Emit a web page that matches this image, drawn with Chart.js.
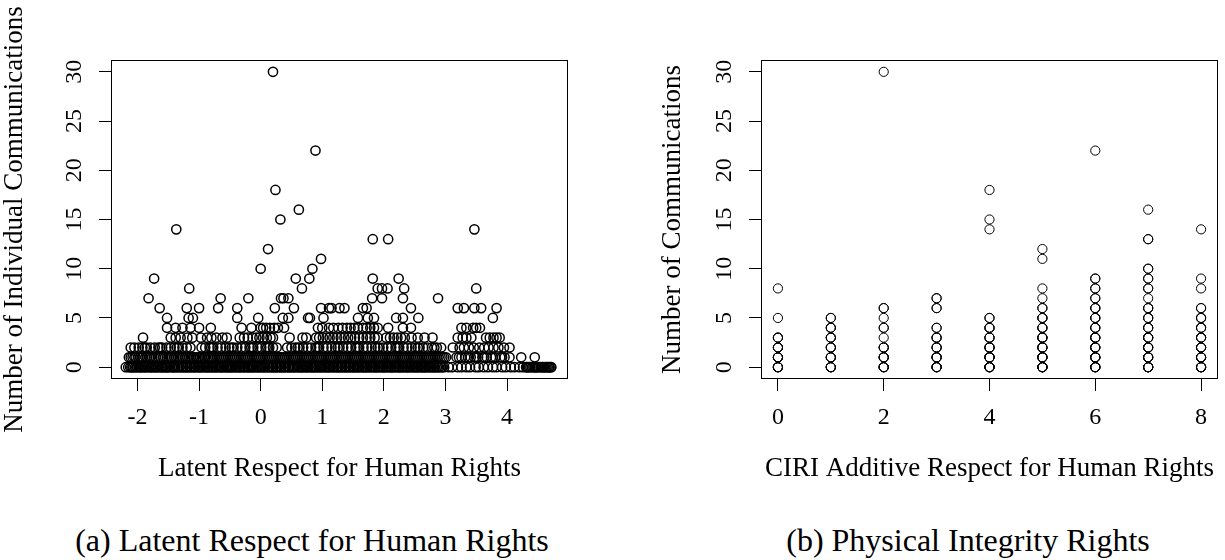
<!DOCTYPE html>
<html>
<head>
<meta charset="utf-8">
<script src="https://cdn.jsdelivr.net/npm/chart.js@4"></script>
<style>
  html, body { margin: 0; padding: 0; background: #fff; }
  #wrap { position: relative; width: 1225px; height: 560px; overflow: hidden; }
  canvas { position: absolute; top: 0; }
  .cap { position: absolute; top: 523px; height: 34px; line-height: 34px; text-align: center;
         font-size: 32px; color: #000; white-space: nowrap; }
</style>
</head>
<body>
<div id="wrap">
  <canvas id="c1" width="612" height="500" style="left:0px"></canvas>
  <canvas id="c2" width="613" height="500" style="left:612px"></canvas>
  <div class="cap" style="left:12px;width:600px;font-family:'Liberation Serif'">(a) Latent Respect for Human Rights</div>
  <div class="cap" style="left:668px;width:600px;font-family:'Liberation Serif'">(b) Physical Integrity Rights</div>
</div>
<script>
// ---------- Panel (a): latent respect score of each observation, grouped by number of communications ----------
const latentAt0 = [-2.19,-2.15,-2.1,-2.07,-2.02,-1.97,-1.94,-1.89,-1.85,-1.79,-1.76,-1.71,-1.67,-1.61,-1.58,-1.53,-1.5,-1.44,-1.41,-1.36,-1.32,-1.27,-1.22,-1.19,-1.14,-1.09,-1.06,-1.01,-0.97,-0.92,-0.87,-0.84,-0.79,-0.74,-0.71,-0.66,-0.62,-0.57,-0.53,-0.49,-0.45,-0.4,-0.35,-0.32,-0.27,-0.22,-0.19,-0.14,-0.1,-0.05,-0.01,0.04,0.08,0.13,0.18,0.21,0.26,0.31,0.34,0.39,0.44,0.47,0.52,0.56,0.61,0.66,0.69,0.74,0.78,0.83,0.87,0.91,0.96,1.0,1.05,1.09,1.13,1.18,1.23,1.26,1.31,1.36,1.39,1.44,1.49,1.52,1.57,1.61,1.66,1.7,1.74,1.79,1.84,1.87,1.92,1.97,2.0,2.05,2.1,2.13,2.18,2.23,2.26,2.31,2.36,2.39,2.44,2.49,2.53,2.57,2.62,2.66,2.7,2.75,2.8,2.83,2.88,2.93,2.98,3.05,3.11,3.2,3.26,3.34,3.4,3.49,3.54,3.62,3.69,3.77,3.83,3.92,3.98,4.06,4.12,4.2,4.26,4.31,4.34,4.38,4.43,4.46,4.5,4.55,4.58,4.62,4.66,4.69,4.72];
const latentAt0More = [-2.12,-2.08,-2.04,-2.0,-1.95,-1.91,-1.87,-1.82,-1.78,-1.73,-1.69,-1.64,-1.6,-1.55,-1.52,-1.47,-1.42,-1.39,-1.34,-1.29,-1.25,-1.2,-1.16,-1.12,-1.08,-1.03,-0.99,-0.95,-0.9,-0.86,-0.81,-0.77,-0.73,-0.68,-0.64,-0.6,-0.55,-0.51,-0.47,-0.42,-0.38,-0.34,-0.29,-0.25,-0.2,-0.16,-0.12,-0.07,-0.03,0.02,0.06,0.11,0.15,0.2,0.24,0.28,0.33,0.37,0.41,0.46,0.5,0.54,0.59,0.63,0.67,0.72,0.76,0.81,0.85,0.89,0.94,0.98,1.03,1.07,1.11,1.16,1.2,1.25,1.29,1.33,1.38,1.42,1.46,1.51,1.55,1.59,1.64,1.68,1.72,1.77,1.81,1.86,1.9,1.94,1.99,2.03,2.07,2.12,2.16,2.2,2.25,2.29,2.33,2.38,2.42,2.47,2.51,2.55,2.6,2.64,2.68,2.73,2.77,2.82,2.86,2.9,2.95,4.32,4.36,4.41,4.45,4.48,4.52,4.57,4.6,4.64,4.68,4.71];
const latentAt1 = [-2.14,-2.08,-2.03,-1.96,-1.91,-1.84,-1.79,-1.73,-1.66,-1.62,-1.55,-1.49,-1.44,-1.37,-1.31,-1.26,-1.19,-1.13,-1.08,-1.01,-0.95,-0.9,-0.83,-0.77,-0.71,-0.65,-0.59,-0.53,-0.47,-0.41,-0.35,-0.29,-0.23,-0.17,-0.11,-0.05,0.01,0.07,0.13,0.19,0.25,0.31,0.37,0.43,0.49,0.55,0.61,0.67,0.73,0.79,0.85,0.91,0.97,1.03,1.09,1.15,1.21,1.27,1.33,1.39,1.45,1.51,1.57,1.63,1.69,1.75,1.81,1.87,1.93,1.99,2.05,2.11,2.17,2.23,2.29,2.35,2.41,2.47,2.53,2.59,2.65,2.71,2.77,2.83,2.89,2.95,3.01,3.18,3.26,3.32,3.41,3.47,3.53,3.6,3.67,3.74,3.81,3.89,3.96,4.04,4.23,4.45];
const latentAt1More = [-2.11,-2.05,-1.99,-1.93,-1.87,-1.81,-1.76,-1.7,-1.63,-1.58,-1.52,-1.46,-1.4,-1.34,-1.28,-1.22,-1.16,-1.1,-1.04,-0.98,-0.92,-0.86,-0.8,-0.74,-0.68,-0.62,-0.56,-0.5,-0.44,-0.38,-0.32,-0.26,-0.2,-0.14,-0.08,-0.02,0.04,0.1,0.16,0.22,0.28,0.34,0.4,0.46,0.52,0.58,0.64,0.7,0.76,0.82,0.88,0.94,1.0,1.06,1.12,1.18,1.24,1.3,1.36,1.42,1.48,1.54,1.6,1.66,1.72,1.78,1.84,1.9,1.96,2.02,2.08,2.14,2.2,2.26,2.32,2.38,2.44,2.5,2.56,2.62,2.68,2.74,2.8,2.86,2.92,2.98,3.22,3.37,3.5,3.63,3.77,3.92];
const latentAt2 = [-2.11,-2.05,-1.98,-1.92,-1.85,-1.79,-1.72,-1.66,-1.6,-1.53,-1.46,-1.4,-1.33,-1.27,-1.2,-1.14,-0.96,-0.9,-0.83,-0.77,-0.7,-0.64,-0.57,-0.51,-0.44,-0.38,-0.31,-0.25,-0.18,-0.12,-0.05,0.01,0.08,0.14,0.2,0.26,0.43,0.5,0.56,0.63,0.69,0.76,0.82,0.89,0.95,1.02,1.08,1.15,1.21,1.28,1.34,1.41,1.47,1.54,1.6,1.67,1.73,1.8,1.86,1.93,1.99,2.06,2.12,2.19,2.25,2.32,2.38,2.45,2.51,2.58,2.64,2.71,2.78,2.86,2.93,3.12,3.23,3.3,3.38,3.46,3.55,3.63,3.7,3.78,3.86,3.95,4.04,-1.88,-1.63,-1.36,-0.8,-0.47,-0.15,0.11,0.6,0.92,1.25,1.57,1.9,2.22,2.55,2.82];
const latentAt3 = [-1.91,-1.46,-1.38,-1.3,-1.19,-1.11,-0.97,-0.87,-0.8,-0.72,-0.62,-0.55,-0.34,-0.27,-0.21,-0.13,-0.07,-0.02,0.04,0.1,0.16,0.2,0.47,0.68,0.74,0.9,0.95,1.01,1.07,1.12,1.18,1.24,1.3,1.36,1.42,1.47,1.53,1.6,1.66,1.72,1.78,1.85,1.9,2.04,2.1,2.16,2.22,2.28,2.34,2.45,2.55,2.66,2.79,3.2,3.28,3.34,3.42,3.66,3.72,3.78,3.83,3.88];
const latentAt4 = [-1.52,-1.38,-1.27,-1.14,-1.0,-0.81,-0.31,-0.15,0.0,0.04,0.09,0.15,0.22,0.28,0.38,0.93,1.0,1.11,1.18,1.26,1.33,1.4,1.46,1.52,1.58,1.66,1.72,1.78,1.84,1.9,2.07,2.31,2.44,3.26,3.34,3.45,3.5,3.56];
const latentAt5 = [-1.52,-1.17,-1.1,-0.38,-0.04,0.36,0.45,0.77,0.8,1.02,1.58,1.74,1.84,2.2,2.31,2.56,3.77];
const latentAt6 = [-1.64,-1.2,-1.0,-0.69,-0.38,0.23,0.54,0.98,1.11,1.15,1.28,1.36,1.66,1.72,2.44,3.2,3.3,3.47,3.58,3.83];
const latentAt7 = [-1.82,-0.65,-0.2,0.33,0.37,0.45,1.81,1.97,2.31,2.88];
const latentAt8 = [-1.16,0.67,1.9,1.97,2.06,2.33,3.5];
const latentAt9 = [-1.73,0.57,0.79,1.82,2.24];
const latentAt10 = [0.0,0.84];
const latentAt11 = [0.98];
const latentAt12 = [0.12];
const latentAt13 = [1.82,2.07];
const latentAt14 = [-1.37,3.47];
const latentAt15 = [0.32];
const latentAt16 = [0.62];
const latentAt18 = [0.24];
const latentAt22 = [0.89];
const latentAt30 = [0.2];
const latentGroups = [[0,latentAt0],[0,latentAt0More],[1,latentAt1],[1,latentAt1More],[2,latentAt2],[3,latentAt3],[4,latentAt4],[5,latentAt5],[6,latentAt6],[7,latentAt7],[8,latentAt8],[9,latentAt9],[10,latentAt10],[11,latentAt11],[12,latentAt12],[13,latentAt13],[14,latentAt14],[15,latentAt15],[16,latentAt16],[18,latentAt18],[22,latentAt22],[30,latentAt30]];

// ---------- Panel (b): CIRI score, number of communications, number of observations at that point ----------
const ciriScore = [0,0,0,0,0,0, 1,1,1,1,1,1, 2,2,2,2,2,2,2,2, 3,3,3,3,3,3,3, 4,4,4,4,4,4,4,4,4, 5,5,5,5,5,5,5,5,5,5,5, 6,6,6,6,6,6,6,6,6,6,6, 7,7,7,7,7,7,7,7,7,7,7,7,7, 8,8,8,8,8,8,8,8,8,8];
const ciriComms = [0,1,2,3,5,8, 0,1,2,3,4,5, 0,1,2,3,4,5,6,30, 0,1,2,3,4,6,7, 0,1,2,3,4,5,14,15,18, 0,1,2,3,4,5,6,7,8,11,12, 0,1,2,3,4,5,6,7,8,9,22, 0,1,2,3,4,5,6,7,8,9,10,13,16, 0,1,2,3,4,5,6,8,9,14];
const ciriObs   = [6,5,4,3,1,1, 5,4,3,3,3,2, 5,4,3,1,2,1,2,1, 5,4,3,3,2,2,2, 6,5,4,3,3,2,1,1,1, 6,5,4,4,3,3,2,1,1,1,1, 6,5,4,4,3,3,3,2,2,2,1, 6,5,4,4,3,3,3,1,2,2,2,2,1, 6,5,4,4,3,3,2,1,1,1];

// ---------- Axis ticks and labels ----------
const latentTicks = [-2,-1,0,1,2,3,4];
const latentTickLabels = ["-2","-1","0","1","2","3","4"];
const ciriTicks = [0,2,4,6,8];
const ciriTickLabels = ["0","2","4","6","8"];
const countTicks = [0,5,10,15,20,25,30];
const countTickLabels = ["0","5","10","15","20","25","30"];

// ---------- Build points ----------
const latentPoints = latentGroups.flatMap(([n, xs]) => xs.map(x => ({ x: x, y: n })));
const ciriPoints = [];
ciriScore.forEach((s, i) => { for (let k = 0; k < ciriObs[i]; k++) ciriPoints.push({ x: s, y: ciriComms[i] }); });

const FONT = "'Liberation Serif'";

const boxPlugin = {
  id: 'box',
  afterDraw(chart) {
    const a = chart.chartArea, ctx = chart.ctx;
    ctx.save();
    ctx.strokeStyle = '#000';
    ctx.lineWidth = 1;
    const l = Math.round(a.left) + 0.5, t = Math.round(a.top) + 0.5;
    const r = Math.round(a.right) - 0.5, b = Math.round(a.bottom) - 0.5;
    ctx.strokeRect(l, t, r - l, b - t);
    ctx.restore();
  }
};

function makeChart(id, points, cfg) {
  return new Chart(document.getElementById(id), {
    type: 'scatter',
    data: { datasets: [{ data: points, pointStyle: 'circle', pointRadius: 4.6, pointBorderWidth: cfg.bw,
      borderColor: '#000', backgroundColor: 'rgba(0,0,0,0)', pointHoverRadius: 4.6 }] },
    options: {
      responsive: false, animation: false, events: [],
      font: { family: FONT },
      layout: { padding: { top: 60, right: cfg.padRight, left: cfg.padLeft, bottom: 0 } },
      plugins: { legend: { display: false }, tooltip: { enabled: false } },
      scales: {
        x: {
          type: 'linear', position: 'bottom', min: cfg.xmin, max: cfg.xmax,
          afterBuildTicks: s => { s.ticks = cfg.xTicks.map(v => ({ value: v })); },
          afterFit: s => { s.height = 121; },
          grid: { drawOnChartArea: false, drawTicks: true, tickLength: 12, color: '#000', lineWidth: 1 },
          border: { display: false },
          ticks: { color: '#000', font: { family: FONT, size: 24 }, padding: 12, maxRotation: 0, autoSkip: false,
            callback: (v) => cfg.xLabels[cfg.xTicks.indexOf(v)] },
          title: { display: true, text: cfg.xTitle, color: '#000', font: { family: FONT, size: 27 }, padding: { top: 0, bottom: 15 } }
        },
        y: {
          type: 'linear', position: 'left', min: -1.2, max: 31.2,
          afterBuildTicks: s => { s.ticks = countTicks.map(v => ({ value: v })); },
          afterFit: s => { s.width = cfg.yWidth; },
          grid: { drawOnChartArea: false, drawTicks: true, tickLength: 12, color: '#000', lineWidth: 1 },
          border: { display: false },
          ticks: { color: '#000', font: { family: FONT, size: 24 }, padding: 12, minRotation: 90, maxRotation: 90,
            crossAlign: 'center', autoSkip: false,
            callback: (v) => countTickLabels[countTicks.indexOf(v)] },
          title: { display: true, text: cfg.yTitle, color: '#000', font: { family: FONT, size: 27 }, padding: { top: cfg.yTitlePad, bottom: 0 } }
        }
      }
    },
    plugins: [boxPlugin]
  });
}

Chart.defaults.font.family = FONT;

makeChart('c1', latentPoints, {
  bw: 1.5, padLeft: 0, padRight: 44, yWidth: 111, yTitlePad: -1.5,
  xmin: -2.43, xmax: 4.99, xTicks: latentTicks, xLabels: latentTickLabels,
  xTitle: 'Latent Respect for Human Rights', yTitle: 'Number of Individual Communications'
});
makeChart('c2', ciriPoints, {
  bw: 1, padLeft: 45, padRight: 7, yWidth: 104, yTitlePad: 0,
  xmin: -0.32, xmax: 8.32, xTicks: ciriTicks, xLabels: ciriTickLabels,
  xTitle: 'CIRI Additive Respect for Human Rights', yTitle: 'Number of Communications'
});
</script>
</body>
</html>
